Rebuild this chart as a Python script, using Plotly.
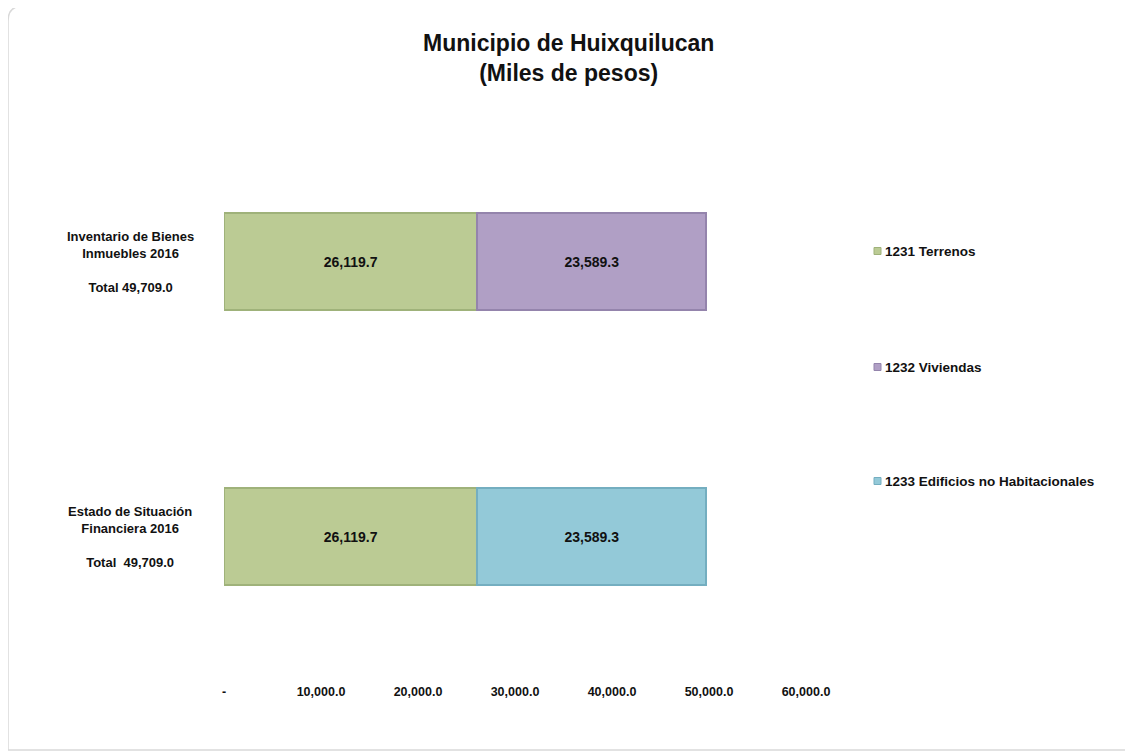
import plotly.graph_objects as go

categories = ["Inventario de Bienes Inmuebles 2016", "Estado de Situación Financiera 2016"]
cat_labels = ["<b>Inventario de Bienes<br>Inmuebles 2016<br><br>Total 49,709.0</b>",
              "<b>Estado de Situación<br>Financiera 2016<br><br>Total  49,709.0</b>"]
series_names = ["1231 Terrenos", "1232 Viviendas", "1233 Edificios no Habitacionales"]
terrenos = [26119.7, 26119.7]
viviendas = [23589.3, None]
edificios = [None, 23589.3]
tick_vals = [0, 10000, 20000, 30000, 40000, 50000, 60000]
tick_text = ["-", "10,000.0", "20,000.0", "30,000.0", "40,000.0", "50,000.0", "60,000.0"]

FONT = "Liberation Sans, Arial, sans-serif"
colors = ["#BBCB94", "#B09FC5", "#93C9D8"]
edges = ["#9FB27A", "#9484AC", "#74AEC0"]

# page offset (body margin) and plot-area geometry in screen pixels
OFF = 8
FW, FH = 1133 - OFF, 755 - OFF
L, R, T, B = 224, 806, 124, 674
W, H = R - L, B - T
def px(x):
    return (x - L) / W
def py(y):
    return (B - y) / H

fig = go.Figure()
for name, vals, c, e in zip(series_names, [terrenos, viviendas, edificios], colors, edges):
    fig.add_trace(go.Bar(
        y=categories, x=vals, name=name, orientation="h",
        marker=dict(color=c, line=dict(color=e, width=2)),
        width=0.353,
        text=[None if v is None else f"{v:,.1f}" for v in vals],
        textposition="inside", insidetextanchor="middle",
        textfont=dict(family=FONT, size=14, color="#111111"),
        texttemplate="<b>%{text}</b>",
        showlegend=False,
    ))

for cat, lab in zip(categories, cat_labels):
    fig.add_annotation(x=px(130), xref="paper", y=cat, yref="y", text=lab,
                       showarrow=False, align="center", xanchor="center", yanchor="middle",
                       font=dict(family=FONT, size=13, color="#111111"))

# legend (manual, to keep the reference's wide spacing)
legend_y = [251, 367, 481]
for name, c, e, ly in zip(series_names, colors, edges, legend_y):
    fig.add_shape(type="rect", xref="paper", yref="paper",
                  x0=px(874), x1=px(881), y0=py(ly + 3.5), y1=py(ly - 3.5),
                  fillcolor=c, line=dict(color=e, width=1))
    fig.add_annotation(x=px(883), xref="paper", y=py(ly), yref="paper",
                       text=f"<b>{name}</b>", showarrow=False, xanchor="left", yanchor="middle",
                       font=dict(family=FONT, size=13.5, color="#111111"))

# title
fig.add_annotation(x=px(568), xref="paper", y=py(58), yref="paper",
                   text="<b>Municipio de Huixquilucan<br>(Miles de pesos)</b>",
                   showarrow=False, xanchor="center", yanchor="middle", align="center",
                   font=dict(family=FONT, size=23, color="#111111"))

# rounded frame
x0, x1, y0, y1 = px(8), px(1145), py(750), py(6)
rx, ry = 15 / W, 15 / H
path = (f"M {x0},{y0} L {x0},{y1-ry} Q {x0},{y1} {x0+rx},{y1} L {x1},{y1} "
        f"L {x1},{y0} Z")
fig.add_shape(type="path", path=path, xref="paper", yref="paper",
              line=dict(color="#D9D9D9", width=1.5), layer="below")

fig.update_layout(
    width=FW, height=FH,
    margin=dict(l=L - OFF, r=FW - (R - OFF), t=T - OFF, b=FH - (B - OFF), autoexpand=False),
    paper_bgcolor="white", plot_bgcolor="white",
    barmode="stack",
    xaxis=dict(range=[0, 60000], tickvals=tick_vals, ticktext=[f"<b>{t}</b>" for t in tick_text],
               showgrid=False, zeroline=False, showline=False, ticks="", ticklabelstandoff=8,
               tickfont=dict(family=FONT, size=12.5, color="#111111")),
    yaxis=dict(categoryorder="array", categoryarray=categories[::-1], showticklabels=False,
               showgrid=False, zeroline=False, showline=False),
    showlegend=False,
)
fig.update_traces(cliponaxis=False)
fig.write_html("out.html")
